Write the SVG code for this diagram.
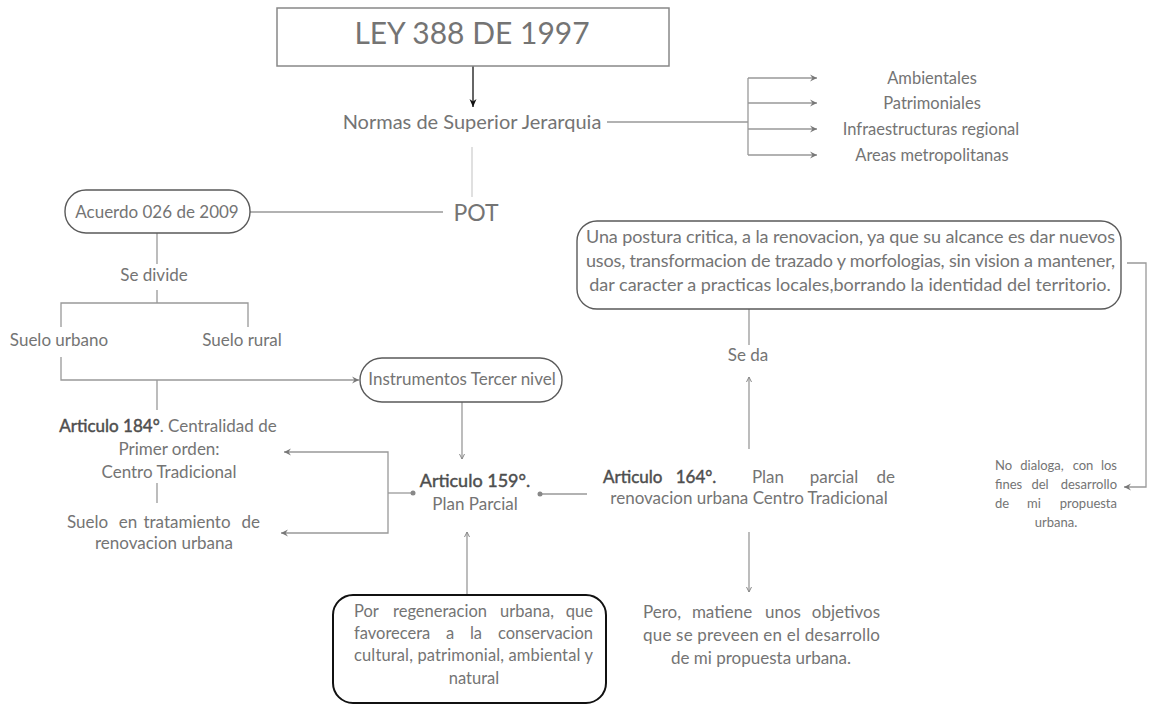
<svg xmlns="http://www.w3.org/2000/svg" width="1149" height="706" viewBox="0 0 1149 706">
<style>
text{font-family:Lato,"Open Sans","Liberation Sans",sans-serif;fill:#747474;font-weight:400}
.c{text-anchor:middle}
.e{text-anchor:end}
.b{fill:#4e4e4e;stroke:#4e4e4e;stroke-width:0.45}
.ln{fill:none;stroke:#999;stroke-width:1.3}
.lt{fill:none;stroke:#cfcfcf;stroke-width:1.3}
.box{fill:#fff;stroke:#5a5a5a;stroke-width:1.4}
</style>
<defs>
<marker id="chev" viewBox="0 0 8 8" refX="7" refY="4" markerWidth="8" markerHeight="8" markerUnits="userSpaceOnUse" orient="auto">
<path d="M0,0.5 L7,4 L0,7.5 L2.5,4 z" fill="#777"/>
</marker>
<marker id="chevk" viewBox="0 0 10 8" refX="8" refY="4" markerWidth="10" markerHeight="8" markerUnits="userSpaceOnUse" orient="auto">
<path d="M0,0.5 L8,4 L0,7.5 L2.5,4 z" fill="#111"/>
</marker>
<marker id="tip" viewBox="0 0 6 6" refX="5" refY="3" markerWidth="6" markerHeight="6" markerUnits="userSpaceOnUse" orient="auto">
<path d="M0,0.5 L5,3 L0,5.5" fill="none" stroke="#888" stroke-width="1"/>
</marker>
</defs>
<g id="connectors">
<line x1="473" y1="66" x2="473" y2="107" stroke="#333" stroke-width="1.5" marker-end="url(#chevk)"/>
<line class="ln" x1="607" y1="122" x2="748" y2="122"/>
<line class="ln" x1="748" y1="78" x2="748" y2="155"/>
<line class="ln" x1="748" y1="78" x2="817" y2="78" marker-end="url(#chev)"/>
<line class="ln" x1="748" y1="103" x2="817" y2="103" marker-end="url(#chev)"/>
<line class="ln" x1="748" y1="129" x2="817" y2="129" marker-end="url(#chev)"/>
<line class="ln" x1="748" y1="155" x2="817" y2="155" marker-end="url(#chev)"/>
<line class="lt" x1="472" y1="147" x2="472" y2="197"/>
<line class="ln" x1="250" y1="212" x2="443" y2="212"/>
<line class="ln" x1="157" y1="233" x2="157" y2="264"/>
<path class="ln" d="M157,290 V303 M61,327 V303 H248 V327"/>
<path class="ln" d="M61,357 V380 H359" marker-end="url(#chev)"/>
<line class="ln" x1="157" y1="380" x2="157" y2="410"/>
<line class="ln" x1="157" y1="483" x2="157" y2="503"/>
<path class="ln" d="M388,493 V452 H284" marker-end="url(#chev)"/>
<path class="ln" d="M388,493 V533 H281" marker-end="url(#chev)"/>
<line class="ln" x1="388" y1="493" x2="413" y2="493"/>
<circle cx="413" cy="493" r="2.5" fill="#888"/>
<line class="ln" x1="462" y1="402" x2="462" y2="459" marker-end="url(#tip)"/>
<line class="ln" x1="540" y1="494" x2="587" y2="494"/>
<circle cx="540" cy="494" r="2.5" fill="#888"/>
<line class="ln" x1="749" y1="449" x2="749" y2="377" marker-end="url(#tip)"/>
<line class="ln" x1="749" y1="309" x2="749" y2="345"/>
<line class="ln" x1="749" y1="532" x2="749" y2="592" marker-end="url(#tip)"/>
<line class="ln" x1="467" y1="595" x2="467" y2="532" marker-end="url(#tip)"/>
<path class="ln" d="M1127,263 H1146 V487 H1124" marker-end="url(#chev)"/>
</g>
<g id="ley">
<rect x="277" y="8" width="392" height="58" fill="#fff" stroke="#888" stroke-width="1.5"/>
<text class="c" x="472" y="44" font-size="30" font-weight="300">LEY 388 DE 1997</text>
</g>
<g id="normas"><text class="c" x="472" y="129" font-size="20">Normas de Superior Jerarquia</text></g>
<g id="ambientales"><text class="c" x="932" y="84" font-size="16.5">Ambientales</text></g>
<g id="patrimoniales"><text class="c" x="932" y="109" font-size="16.5">Patrimoniales</text></g>
<g id="infraestructuras"><text class="c" x="931" y="135" font-size="16.5">Infraestructuras regional</text></g>
<g id="areas"><text class="c" x="932" y="161" font-size="16.5">Areas metropolitanas</text></g>
<g id="pot"><text class="c" x="476" y="221" font-size="23">POT</text></g>
<g id="acuerdo">
<rect class="box" x="65" y="190" width="185" height="43" rx="21"/>
<text class="c" x="157" y="218" font-size="17">Acuerdo 026 de 2009</text>
</g>
<g id="sedivide"><text class="c" x="154" y="281" font-size="17">Se divide</text></g>
<g id="suelourbano"><text class="c" x="59" y="346" font-size="17">Suelo urbano</text></g>
<g id="suelorural"><text class="c" x="242" y="346" font-size="17">Suelo rural</text></g>
<g id="instrumentos">
<rect class="box" x="360" y="358" width="202" height="44" rx="22"/>
<text class="c" x="462" y="385" font-size="17">Instrumentos Tercer nivel</text>
</g>
<g id="art184">
<text class="c" x="168" y="432" font-size="17"><tspan class="b">Articulo 184°</tspan>. Centralidad de</text>
<text class="c" x="169" y="455" font-size="17">Primer orden:</text>
<text class="c" x="169" y="478" font-size="17">Centro Tradicional</text>
</g>
<g id="suelotratamiento">
<text font-size="17" y="528"><tspan x="67">Suelo</tspan><tspan x="128" class="c">en</tspan><tspan x="187" class="c">tratamiento</tspan><tspan x="260" class="e">de</tspan></text>
<text class="c" x="164" y="549" font-size="17">renovacion urbana</text>
</g>
<g id="art159">
<text class="c b" x="475" y="487" font-size="18">Articulo 159°.</text>
<text class="c" x="475" y="510" font-size="17">Plan Parcial</text>
</g>
<g id="art164">
<text font-size="17" y="483"><tspan x="603" class="b">Articulo</tspan><tspan x="696" class="c b">164°.</tspan><tspan x="768" class="c">Plan</tspan><tspan x="834" class="c">parcial</tspan><tspan x="895" class="e">de</tspan></text>
<text class="c" x="749" y="504" font-size="17">renovacion urbana Centro Tradicional</text>
</g>
<g id="seda"><text class="c" x="748" y="361" font-size="17">Se da</text></g>
<g id="critica">
<rect class="box" x="577" y="221" width="544" height="88" rx="20"/>
<text font-size="18" y="243" textLength="529" lengthAdjust="spacing" x="586">Una postura critica, a la renovacion, ya que su alcance es dar nuevos</text>
<text font-size="18" y="267" textLength="529" lengthAdjust="spacing" x="586">usos, transformacion de trazado y morfologias, sin vision a mantener,</text>
<text class="c" font-size="18" y="291" x="850">dar caracter a practicas locales,borrando la identidad del territorio.</text>
</g>
<g id="nodialoga">
<text font-size="13" y="470"><tspan x="995">No</tspan><tspan x="1042" class="c">dialoga,</tspan><tspan x="1083" class="c">con</tspan><tspan x="1117" class="e">los</tspan></text>
<text font-size="13" y="489"><tspan x="995">fines</tspan><tspan x="1040" class="c">del</tspan><tspan x="1117" class="e">desarrollo</tspan></text>
<text font-size="13" y="508"><tspan x="995">de</tspan><tspan x="1034" class="c">mi</tspan><tspan x="1117" class="e">propuesta</tspan></text>
<text class="c" font-size="13" y="527" x="1056">urbana.</text>
</g>
<g id="porregeneracion">
<rect x="333" y="595" width="273" height="108" rx="20" fill="#fff" stroke="#111" stroke-width="2"/>
<text font-size="16.5" y="617"><tspan x="354">Por</tspan><tspan x="440" class="c">regeneracion</tspan><tspan x="527" class="c">urbana,</tspan><tspan x="593" class="e">que</tspan></text>
<text font-size="16.5" y="639"><tspan x="354">favorecera</tspan><tspan x="450" class="c">a</tspan><tspan x="476" class="c">la</tspan><tspan x="593" class="e">conservacion</tspan></text>
<text font-size="16.5" y="661" textLength="239" lengthAdjust="spacing" x="354">cultural, patrimonial, ambiental y</text>
<text class="c" font-size="16.5" y="684" x="474">natural</text>
</g>
<g id="pero">
<text font-size="17" y="618"><tspan x="643">Pero,</tspan><tspan x="722" class="c">matiene</tspan><tspan x="783" class="c">unos</tspan><tspan x="880" class="e">objetivos</tspan></text>
<text font-size="17" y="641" textLength="237" lengthAdjust="spacing" x="643">que se preveen en el desarrollo</text>
<text class="c" font-size="17" y="664" x="761">de mi propuesta urbana.</text>
</g>
</svg>
